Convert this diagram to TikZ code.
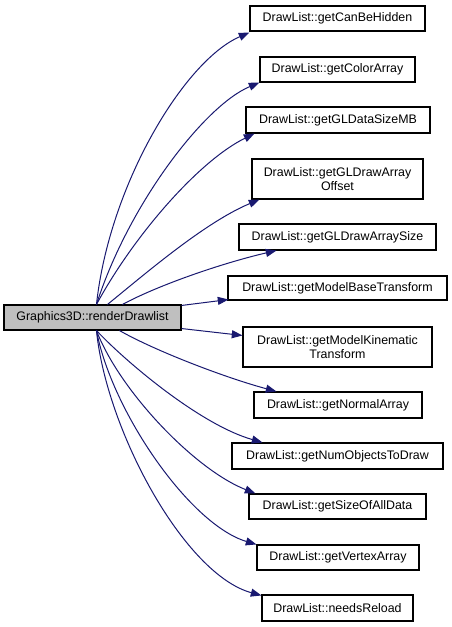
\documentclass[tikz,border=0pt]{standalone}
\usepackage{fontspec}
\setmainfont{Liberation Sans}
\usetikzlibrary{arrows.meta,calc}
\definecolor{edgeblue}{HTML}{191970}
\definecolor{srcgray}{HTML}{BFBFBF}
\tikzset{
  fn/.style={draw=black, line width=0.8pt, font=\fontsize{9.3}{10.2}\selectfont, align=center, inner sep=0pt},
  call/.style={draw=edgeblue, line width=0.75pt, -{Triangle[length=8pt,width=6pt]}, edgeblue}
}
\begin{document}
\begin{tikzpicture}[x=0.75pt,y=-0.75pt]
\useasboundingbox (0,0) rectangle (452,627);
\node[fn, fill=srcgray, minimum width=132.75pt, minimum height=18.75pt] (src) at (92.5,317.5) {Graphics3D::renderDrawlist};
\node[fn, minimum width=131.25pt, minimum height=18.75pt] (t1) at (337.5,18.5) {DrawList::getCanBeHidden};
\node[fn, minimum width=116.25pt, minimum height=18.75pt] (t2) at (337.5,69.5) {DrawList::getColorArray};
\node[fn, minimum width=138pt, minimum height=19.5pt] (t3) at (338,120) {DrawList::getGLDataSizeMB};
\node[fn, minimum width=128.25pt, minimum height=30pt] (t4) at (337.5,179) {DrawList::getGLDrawArray\\Offset};
\node[fn, minimum width=147.75pt, minimum height=19.5pt] (t5) at (337.5,237) {DrawList::getGLDrawArraySize};
\node[fn, minimum width=164.25pt, minimum height=18pt] (t6) at (337.5,288) {DrawList::getModelBaseTransform};
\node[fn, minimum width=141.75pt, minimum height=30pt] (t7) at (337.5,347) {DrawList::getModelKinematic\\Transform};
\node[fn, minimum width=126pt, minimum height=19.5pt] (t8) at (338,405) {DrawList::getNormalArray};
\node[fn, minimum width=158.25pt, minimum height=19.5pt] (t9) at (337.5,456) {DrawList::getNumObjectsToDraw};
\node[fn, minimum width=132.75pt, minimum height=18.75pt] (t10) at (337.5,506.5) {DrawList::getSizeOfAllData};
\node[fn, minimum width=121.5pt, minimum height=18.75pt] (t11) at (338,557.5) {DrawList::getVertexArray};
\node[fn, minimum width=113.25pt, minimum height=19.5pt] (t12) at (337.5,608) {DrawList::needsReload};

\draw[call] ($(src.north west)+(93,0)$) .. controls +(13,-120) and +(-65,28) .. ($(t1.south west)+(0,1)$);
\draw[call] ($(src.north west)+(93,0)$) .. controls +(32,-100) and +(-55,23) .. (t2.south west);
\draw[call] ($(src.north west)+(93,0)$) .. controls +(38,-70) and +(-55,27) .. ($(t3.south west)+(9,0)$);
\draw[call] ($(src.north west)+(104,0)$) .. controls +(37,-30) and +(-55,23) .. ($(t4.south west)+(8,0)$);
\draw[call] ($(src.north west)+(119,0)$) .. controls +(37,-20) and +(-52,12) .. ($(t5.south west)+(38,0)$);
\draw[call] ($(src.north east)+(0,1)$) -- ($(t6.south west)+(1,-1)$);
\draw[call] ($(src.south east)+(0,-2)$) -- ($(t7.north west)+(0,9)$);
\draw[call] ($(src.south west)+(116,0)$) .. controls +(35,20) and +(-52,-14) .. ($(t8.north west)+(23,0)$);
\draw[call] ($(src.south west)+(93,0)$) .. controls +(28,30) and +(-63,-18) .. ($(t9.north west)+(31,0)$);
\draw[call] ($(src.south west)+(93,0)$) .. controls +(23,60) and +(-61,-24) .. ($(t10.north west)+(7,0)$);
\draw[call] ($(src.south west)+(93,0)$) .. controls +(15,80) and +(-67,-20) .. (t11.north west);
\draw[call] ($(src.south west)+(93,0)$) .. controls +(10,100) and +(-77,-21) .. ($(t12.north west)+(0,1)$);
\end{tikzpicture}
\end{document}
